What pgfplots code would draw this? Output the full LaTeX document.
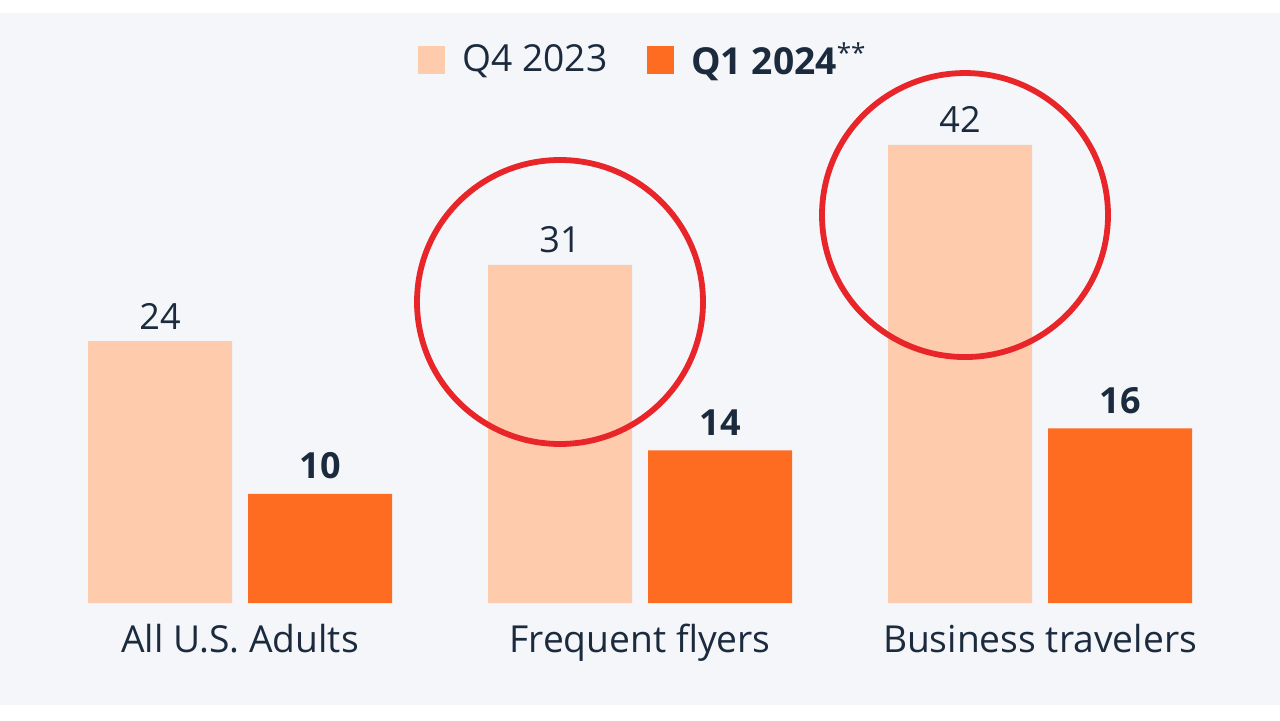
\documentclass[border=0pt]{standalone}
\usepackage{pgfplots}
\pgfplotsset{compat=1.18}
\usepackage{fontspec}
\setmainfont{Open Sans}
\definecolor{lightc}{HTML}{FECBAD}
\definecolor{darkc}{HTML}{FE6C22}
\definecolor{bgc}{HTML}{F4F6FA}
\definecolor{txt}{HTML}{1B2A3D}
\definecolor{circ}{HTML}{E82529}
\begin{document}
\begin{tikzpicture}
\fill[white] (0,0) rectangle (640pt,360pt);
\fill[bgc] (0,7.5pt) rectangle (640pt,353.5pt);
\begin{axis}[
  at={(0,0)}, anchor=south west, scale only axis,
  width=640pt, height=360pt,
  xmin=-0.6, xmax=2.6, ymin=-10.724, ymax=55.27,
  axis line style={draw=none}, ticks=none,
  ybar=8pt, bar width=72pt,
  clip=false,
  /pgf/number format/assume math mode=true,
  nodes near coords,
  every node near coord/.append style={text=txt, anchor=base, font=\fontsize{18}{20}\selectfont},
  legend style={at={(rel axis cs:0.5035,0.9167)}, anchor=center, draw=none, fill=none,
    legend columns=2, font=\fontsize{18.6}{20}\selectfont, text=txt,
    /tikz/every odd column/.append style={column sep=6.5pt},
    /tikz/every even column/.append style={column sep=18pt}},
  legend image code/.code={\fill[#1] (0pt,-7pt) rectangle (13.5pt,7pt);},
]
\addplot[fill=lightc, draw=none, every node near coord/.append style={yshift=6pt}]
  coordinates {(0,24) (1,31) (2,42)};
\addlegendentry{Q4 2023}
\addplot[fill=darkc, draw=none, every node near coord/.append style={yshift=7.5pt, font=\fontsize{18}{20}\selectfont\bfseries}]
  coordinates {(0,10) (1,14) (2,16)};
\addlegendentry{\textbf{Q1 2024}\textsuperscript{**}}
\node[anchor=base, text=txt, font=\fontsize{18.6}{20}\selectfont] at (axis cs:0,-4.58) {All U.S. Adults};
\node[anchor=base, text=txt, font=\fontsize{18.6}{20}\selectfont] at (axis cs:1,-4.58) {Frequent flyers};
\node[anchor=base, text=txt, font=\fontsize{18.6}{20}\selectfont] at (axis cs:2,-4.58) {Business travelers};
\draw[circ, line width=2.9pt] (axis cs:0.8,27.59) ellipse [x radius=71.5pt, y radius=71pt];
\draw[circ, line width=2.9pt] (axis cs:1.8125,35.56) ellipse [x radius=71.5pt, y radius=71pt];
\end{axis}
\end{tikzpicture}
\end{document}
